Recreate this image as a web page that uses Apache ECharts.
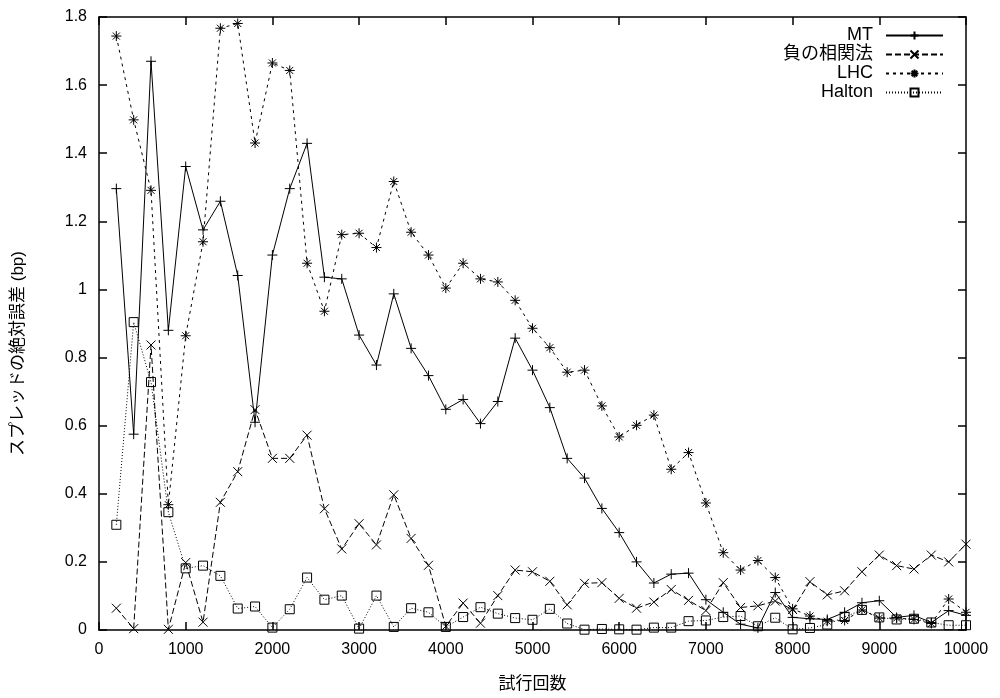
<!DOCTYPE html>
<html>
<head>
<meta charset="utf-8">
<script src="https://cdn.jsdelivr.net/npm/echarts@6/dist/echarts.min.js"></script>
<style>html,body{margin:0;padding:0;background:#fff;}#c{width:1000px;height:698px;}</style>
</head>
<body>
<div id="c"></div>
<script>
const trials = [200,400,600,800,1000,1200,1400,1600,1800,2000,
  2200,2400,2600,2800,3000,3200,3400,3600,3800,4000,
  4200,4400,4600,4800,5000,5200,5400,5600,5800,6000,
  6200,6400,6600,6800,7000,7200,7400,7600,7800,8000,
  8200,8400,8600,8800,9000,9200,9400,9600,9800,10000];
const mt = [1.296,0.575,1.670,0.880,1.361,1.175,1.259,1.041,0.610,1.101,
  1.296,1.429,1.036,1.031,0.866,0.778,0.987,0.827,0.747,0.648,
  0.677,0.606,0.671,0.857,0.763,0.653,0.504,0.446,0.357,0.286,
  0.200,0.138,0.164,0.167,0.089,0.052,0.017,0.006,0.110,0.037,
  0.033,0.031,0.052,0.080,0.086,0.037,0.043,0.022,0.057,0.043];
const antithetic = [0.064,0.004,0.837,0.002,0.198,0.023,0.375,0.465,0.647,0.504,
  0.504,0.572,0.356,0.238,0.312,0.250,0.397,0.269,0.190,0.011,
  0.079,0.020,0.101,0.176,0.171,0.143,0.074,0.137,0.139,0.093,
  0.064,0.082,0.119,0.087,0.057,0.139,0.066,0.071,0.085,0.060,
  0.142,0.103,0.115,0.171,0.220,0.189,0.179,0.220,0.200,0.252];
const lhc = [1.744,1.498,1.291,0.368,0.864,1.140,1.767,1.781,1.430,1.665,
  1.643,1.077,0.936,1.161,1.165,1.123,1.317,1.168,1.101,1.004,
  1.077,1.031,1.022,0.968,0.886,0.829,0.757,0.763,0.658,0.567,
  0.601,0.631,0.472,0.521,0.373,0.227,0.176,0.204,0.154,0.062,
  0.041,0.026,0.028,0.059,0.035,0.035,0.031,0.019,0.091,0.052];
const halton = [0.309,0.904,0.728,0.346,0.181,0.189,0.159,0.063,0.069,0.007,
  0.061,0.154,0.089,0.101,0.004,0.101,0.009,0.064,0.052,0.009,
  0.038,0.067,0.048,0.035,0.030,0.062,0.019,0.001,0.003,0.002,
  0.001,0.007,0.007,0.026,0.028,0.038,0.041,0.011,0.036,0.002,
  0.006,0.016,0.038,0.059,0.037,0.031,0.033,0.022,0.014,0.014];
const seriesNames = ['MT','負の相関法','LHC','Halton'];
const xTicks = {min:0, max:10000, interval:1000};
const yTicks = {min:0, max:1.8, interval:0.2};

const FONT = "'Liberation Sans', 'Noto Sans CJK JP', sans-serif";
const pair = arr => trials.map((t,i)=>[t, arr[i]]);
const sym = {
  plus: 'path://M5,0L5,10M0,5L10,5',
  cross: 'path://M0,0L10,10M10,0L0,10',
  star: 'path://M5,0L5,10M0,5L10,5M1.5,1.5L8.5,8.5M8.5,1.5L1.5,8.5',
  box: 'path://M0,0L10,0L10,10L0,10Z'
};
function mk(name, data, symbol, size, type){
  return {
    name, type:'line', data: pair(data), symbol, symbolSize:size,
    showAllSymbol:true, animation:false,
    lineStyle:{color:'#000', width:1, type},
    itemStyle:{color:'none', borderColor:'#000', borderWidth:1},
    emphasis:{disabled:true}
  };
}
function axisCommon(){
  return {
    axisLine:{show:true, onZero:false, lineStyle:{color:'#000', width:1.5}},
    axisTick:{show:true, inside:true, length:8, lineStyle:{color:'#000', width:1.5}},
    splitLine:{show:false}
  };
}
const chart = echarts.init(document.getElementById('c'), null, {renderer:'canvas'});
chart.setOption({
  backgroundColor:'#fff',
  animation:false,
  grid:{left:99, right:34, top:17, bottom:63, containLabel:false},
  xAxis:[
    Object.assign({type:'value', position:'bottom', min:xTicks.min, max:xTicks.max, interval:xTicks.interval,
      name:'試行回数', nameLocation:'middle', nameGap:46,
      nameTextStyle:{color:'#000', fontSize:17, fontFamily:FONT},
      axisLabel:{color:'#000', fontSize:16, fontFamily:FONT, margin:12, formatter:v=>String(v)}}, axisCommon()),
    Object.assign({type:'value', position:'top', min:xTicks.min, max:xTicks.max, interval:xTicks.interval,
      axisLabel:{show:false}}, axisCommon())
  ],
  yAxis:[
    Object.assign({type:'value', position:'left', min:yTicks.min, max:yTicks.max, interval:yTicks.interval,
      name:'スプレッドの絶対誤差 (bp)', nameLocation:'middle', nameGap:72,
      nameTextStyle:{color:'#000', fontSize:17, fontFamily:FONT, padding:[0,60,0,0]},
      axisLabel:{color:'#000', fontSize:16, fontFamily:FONT, margin:12}}, axisCommon()),
    Object.assign({type:'value', position:'right', min:yTicks.min, max:yTicks.max, interval:yTicks.interval,
      axisLabel:{show:false}}, axisCommon())
  ],
  legend:{
    orient:'vertical', align:'right', right:56, top:26, padding:0,
    itemWidth:57, itemHeight:10, itemGap:0,
    selectedMode:false,
    textStyle:{color:'#000', fontSize:18, fontFamily:FONT, lineHeight:19, padding:[0,8,0,0]},
    data:seriesNames
  },
  series:[
    mk(seriesNames[0], mt, sym.plus, 10, 'solid'),
    mk(seriesNames[1], antithetic, sym.cross, 9, [6,3]),
    mk(seriesNames[2], lhc, sym.star, 10, [3,4]),
    mk(seriesNames[3], halton, sym.box, 9, [1,2])
  ]
});
</script>
</body>
</html>
